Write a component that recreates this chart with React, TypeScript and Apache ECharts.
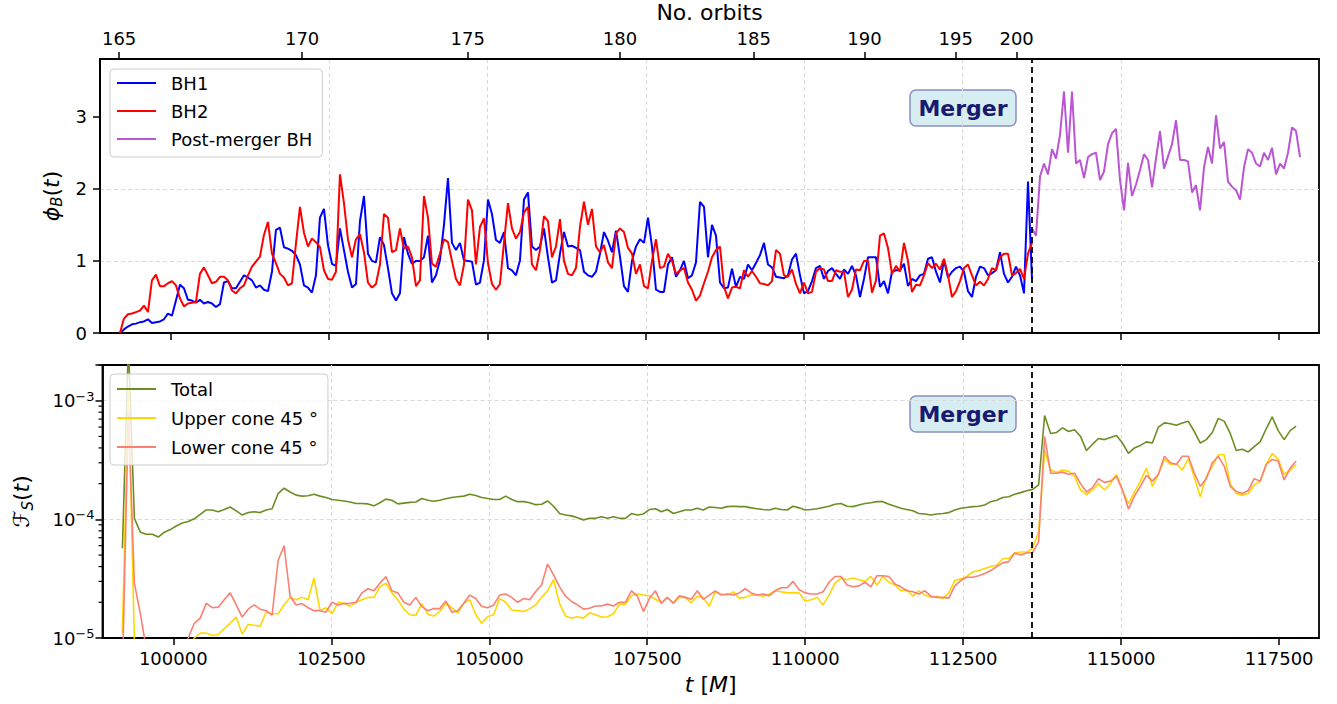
import React, { useEffect, useRef } from 'react';
import * as echarts from 'echarts';

const FONT = 'DejaVu Sans';

// axes
const X_MIN = 98880;
const X_MAX = 118130;
const T_TICKS = [100000, 102500, 105000, 107500, 110000, 112500, 115000, 117500];
const ORBIT_LABELS = [165, 170, 175, 180, 185, 190, 195, 200];
const ORBIT_TIMES = [99182, 102072, 104688, 107091, 109204, 110953, 112394, 113355];
const MERGER_T = 113590;
const PHI_TICKS = [0, 1, 2, 3];
const PHI_MAX = 3.8;
const FLUX_MIN = 1e-5;
const FLUX_MAX = 2e-3;
const FLUX_MINOR = [2e-5, 3e-5, 4e-5, 5e-5, 6e-5, 7e-5, 8e-5, 9e-5, 2e-4, 3e-4, 4e-4, 5e-4, 6e-4, 7e-4, 8e-4, 9e-4, 2e-3];

// magnetic flux phi_B(t): uniformly sampled
const BH_T0 = 99195;
const BH_DT = 63.17;
const BH1 = [
  0.0, 0.05, 0.09, 0.12, 0.13, 0.15, 0.16, 0.19, 0.14, 0.15, 0.16, 0.19, 0.27, 0.24, 0.45, 0.67, 0.62, 0.46, 0.45, 0.42,
  0.46, 0.41, 0.43, 0.41, 0.36, 0.40, 0.70, 0.72, 0.62, 0.62, 0.71, 0.80, 0.77, 0.73, 0.63, 0.66, 0.60, 0.58, 0.85, 1.43,
  1.46, 1.19, 1.17, 1.14, 1.08, 0.95, 0.66, 0.63, 0.56, 0.80, 1.60, 1.72, 1.22, 0.96, 0.93,
  1.45, 1.15, 0.85, 0.63, 0.68, 1.55, 1.9, 1.10, 1.00, 0.98, 1.33, 1.22, 0.90, 0.55, 0.45, 0.55, 1.33, 1.10, 0.96, 1.00,
  1.00, 1.05, 1.35, 0.70, 0.80, 1.01, 1.50, 2.15, 1.25, 1.15, 1.25, 1.01, 1.00, 0.99, 0.67, 0.70, 1.01, 1.85, 1.65, 1.29,
  1.25, 1.40, 0.90, 0.87, 0.80, 1.01, 1.85, 1.95, 1.20, 1.15, 1.20, 1.45, 1.05, 0.70, 0.73, 1.10, 1.40, 1.20,
  1.21, 1.18, 1.15, 0.85, 0.80, 0.78, 0.85, 1.10, 1.40, 1.28, 1.12, 1.42, 1.06, 0.65, 0.57, 1.0, 1.20, 1.30, 1.25, 1.60,
  1.20, 0.60, 0.57, 0.57, 0.95, 1.05, 0.78, 0.87, 1.00, 0.76, 0.80, 0.98, 1.82, 1.75, 1.05, 1.50, 1.35, 0.70, 0.62, 0.63,
  0.89, 0.64, 0.78, 0.75, 0.95, 0.87, 0.97, 1.08, 1.25, 0.95, 0.91, 0.78, 0.77, 0.76, 0.80, 1.02, 1.10,
  0.80, 0.55, 0.58, 0.72, 0.90, 0.93, 0.75, 0.86, 0.90, 0.82, 0.75, 0.88, 0.82, 0.93, 0.80, 0.50, 0.75, 1.05, 1.05, 1.05,
  0.64, 0.72, 0.55, 0.85, 0.87, 0.87, 0.96, 0.65, 0.75, 0.72, 0.80, 0.82, 1.03, 1.05, 0.85, 0.70, 1.01, 0.77, 0.85, 0.90,
  0.92, 0.85, 0.58, 0.50, 0.78, 0.92, 0.90, 0.80, 0.83, 0.87, 1.12, 0.82, 0.70, 0.78, 0.92, 0.80, 0.55, 2.1, 0.75,
];
const BH2 = [
  0.0, 0.20, 0.26, 0.27, 0.29, 0.31, 0.38, 0.29, 0.73, 0.81, 0.65, 0.65, 0.69, 0.72, 0.66, 0.48, 0.37, 0.41, 0.42, 0.43,
  0.82, 0.91, 0.80, 0.69, 0.71, 0.78, 0.78, 0.73, 0.59, 0.55, 0.62, 0.66, 0.80, 0.92, 0.99, 1.06, 1.36, 1.54, 1.10, 0.97,
  0.82, 0.77, 0.66, 0.69, 1.24, 1.75, 1.39, 1.20, 1.31, 1.26, 1.19, 0.87, 0.75, 0.74, 0.85,
  2.2, 1.80, 1.30, 1.05, 1.30, 1.37, 1.12, 0.70, 0.63, 0.68, 0.95, 1.65, 1.60, 1.12, 1.15, 1.45, 1.17, 1.20, 1.05, 0.65,
  0.73, 1.9, 1.60, 0.96, 0.92, 1.10, 1.30, 1.26, 1.00, 0.75, 0.66, 0.95, 1.85, 1.70, 0.95, 1.47, 1.59, 0.97, 0.68, 0.60,
  0.68, 1.25, 1.80, 1.45, 1.31, 1.40, 1.67, 1.75, 0.95, 0.87, 1.15, 1.62, 1.55, 1.05, 1.20, 1.58, 1.00, 0.82,
  0.80, 0.90, 1.47, 1.82, 1.50, 1.72, 1.20, 1.12, 1.22, 0.98, 0.90, 1.38, 1.45, 1.40, 1.18, 1.10, 0.82, 0.95, 0.65, 0.62,
  1.00, 1.30, 0.90, 0.92, 1.10, 1.00, 0.82, 0.87, 0.90, 0.70, 0.60, 0.45, 0.52, 0.69, 0.85, 1.05, 1.15, 1.20, 0.64, 0.48,
  0.63, 0.64, 0.62, 0.87, 0.78, 0.86, 0.78, 0.69, 0.68, 0.66, 0.72, 1.15, 1.10, 0.80, 0.78, 0.88, 0.68,
  0.55, 0.70, 0.55, 0.57, 0.85, 0.90, 0.88, 0.72, 0.72, 0.87, 0.85, 0.85, 0.50, 0.60, 0.88, 0.87, 1.0, 1.0, 0.56, 0.73,
  1.35, 1.38, 1.18, 0.82, 0.93, 0.85, 1.25, 1.0, 0.57, 0.67, 0.66, 0.80, 0.97, 0.90, 0.96, 0.88, 1.03, 0.80, 0.50, 0.58,
  0.72, 0.90, 0.95, 0.80, 0.66, 0.71, 0.66, 0.75, 0.90, 0.87, 1.05, 1.1, 1.10, 0.80, 0.83, 0.89, 0.75, 1.1, 1.25,
];
const PM_T0 = 113598;
const PM_DT = 63.17;
const POST_MERGER = [
  1.45, 1.35, 2.17, 2.35, 2.20, 2.55, 2.42, 2.75, 3.35, 2.50, 3.35, 2.35, 2.40, 2.15, 2.44, 2.48, 2.50, 2.12, 2.24, 2.62,
  2.77, 2.83, 2.12, 1.70, 2.36, 1.90, 2.06, 2.26, 2.48, 2.40, 2.02, 2.42, 2.80, 2.28, 2.45, 2.62, 2.95, 2.40, 2.40, 2.38,
  1.95, 2.05, 1.70, 2.30, 2.58, 2.35, 3.02, 2.56, 2.65, 2.10, 2.03, 1.98, 1.85, 2.30, 2.55, 2.50, 2.35, 2.31, 2.50, 2.40,
  2.57, 2.20, 2.35, 2.28, 2.50, 2.85, 2.80, 2.44,
];

// Poynting flux F_S(t): uniformly sampled
const FLUX_T0 = 99195;
const FLUX_DT = 94.76;
const TOTAL = [
  5.7e-5, 3e-3, 1.02e-4, 7.8e-5, 7.5e-5, 7.5e-5, 7.1e-5, 7.8e-5, 8.2e-5, 8.8e-5,
  9.3e-5, 9.6e-5, 1.01e-4, 1.1e-4, 1.2e-4, 1.2e-4, 1.16e-4, 1.21e-4, 1.27e-4, 1.18e-4,
  1.09e-4, 1.14e-4, 1.16e-4, 1.14e-4, 1.2e-4, 1.23e-4, 1.65e-4, 1.83e-4, 1.7e-4, 1.6e-4,
  1.57e-4, 1.58e-4, 1.63e-4, 1.57e-4, 1.53e-4, 1.47e-4, 1.45e-4, 1.43e-4, 1.4e-4, 1.36e-4,
  1.36e-4, 1.35e-4, 1.3e-4, 1.38e-4, 1.48e-4, 1.45e-4, 1.35e-4, 1.37e-4, 1.39e-4, 1.4e-4,
  1.5e-4, 1.45e-4, 1.42e-4, 1.45e-4, 1.49e-4, 1.53e-4, 1.55e-4, 1.57e-4, 1.63e-4, 1.59e-4,
  1.53e-4, 1.5e-4, 1.47e-4, 1.47e-4, 1.57e-4, 1.47e-4, 1.41e-4, 1.41e-4, 1.38e-4, 1.33e-4,
  1.34e-4, 1.43e-4, 1.29e-4, 1.12e-4, 1.09e-4, 1.07e-4, 1.03e-4, 9.9e-5, 1.02e-4, 1.02e-4,
  1.05e-4, 1.02e-4, 1.05e-4, 1.02e-4, 1.02e-4, 1.12e-4, 1.09e-4, 1.11e-4, 1.21e-4, 1.23e-4,
  1.16e-4, 1.21e-4, 1.12e-4, 1.16e-4, 1.2e-4, 1.2e-4, 1.24e-4, 1.2e-4, 1.27e-4, 1.26e-4,
  1.24e-4, 1.28e-4, 1.29e-4, 1.28e-4, 1.28e-4, 1.25e-4, 1.23e-4, 1.21e-4, 1.2e-4, 1.24e-4,
  1.21e-4, 1.2e-4, 1.29e-4, 1.25e-4, 1.2e-4, 1.21e-4, 1.23e-4, 1.26e-4, 1.29e-4, 1.34e-4,
  1.36e-4, 1.29e-4, 1.28e-4, 1.32e-4, 1.36e-4, 1.38e-4, 1.41e-4, 1.41e-4, 1.34e-4, 1.29e-4,
  1.24e-4, 1.21e-4, 1.18e-4, 1.12e-4, 1.11e-4, 1.09e-4, 1.11e-4, 1.12e-4, 1.14e-4, 1.2e-4,
  1.24e-4, 1.26e-4, 1.28e-4, 1.29e-4, 1.32e-4, 1.41e-4, 1.45e-4, 1.53e-4, 1.55e-4, 1.63e-4,
  1.68e-4, 1.74e-4, 1.79e-4, 1.95e-4, 7.5e-4, 5.3e-4, 5.4e-4, 5.9e-4, 5.5e-4, 5.7e-4,
  5e-4, 3.8e-4, 4.3e-4, 4.8e-4, 4.7e-4, 4.9e-4, 5.1e-4, 4.4e-4, 3.6e-4, 4e-4,
  4.2e-4, 4.5e-4, 4.4e-4, 6e-4, 6.5e-4, 6.4e-4, 6.2e-4, 6.5e-4, 6.7e-4, 5.5e-4,
  4.4e-4, 4.7e-4, 5.4e-4, 7.1e-4, 6.7e-4, 5.3e-4, 3.8e-4, 3.9e-4, 3.7e-4, 4.1e-4,
  4.5e-4, 5.8e-4, 7.3e-4, 5.6e-4, 4.7e-4, 5.6e-4, 6.1e-4,
];
const UPPER = [
  1.1e-5, 1.3e-3, 9.5e-6, 6e-6, 5e-6, 5e-6, 6e-6, 5e-6, 6e-6, 7e-6,
  7e-6, 8.5e-6, 1e-5, 1.1e-5, 1.1e-5, 1.05e-5, 1.07e-5, 1.2e-5, 1.33e-5, 1.5e-5,
  1.08e-5, 1.3e-5, 1.28e-5, 1.26e-5, 1.65e-5, 1.6e-5, 1.6e-5, 1.9e-5, 2.2e-5, 2.1e-5,
  2.2e-5, 2.1e-5, 3.2e-5, 1.7e-5, 1.8e-5, 1.6e-5, 2.0e-5, 1.96e-5, 1.85e-5, 2.0e-5,
  2.1e-5, 2.2e-5, 2.2e-5, 2.7e-5, 2.9e-5, 2.4e-5, 2.1e-5, 1.75e-5, 1.57e-5, 1.55e-5,
  1.95e-5, 1.58e-5, 1.53e-5, 1.67e-5, 1.96e-5, 1.8e-5, 1.63e-5, 1.96e-5, 2.1e-5, 1.58e-5,
  1.33e-5, 1.52e-5, 1.57e-5, 2.15e-5, 2.0e-5, 1.72e-5, 1.7e-5, 1.67e-5, 1.76e-5, 1.9e-5,
  2.2e-5, 2.5e-5, 3.1e-5, 1.95e-5, 1.53e-5, 1.47e-5, 1.51e-5, 1.47e-5, 1.63e-5, 1.57e-5,
  1.5e-5, 1.51e-5, 1.6e-5, 1.93e-5, 1.92e-5, 2.27e-5, 2.35e-5, 2.3e-5, 2.27e-5, 2.12e-5,
  1.98e-5, 2.2e-5, 1.98e-5, 2.2e-5, 2.2e-5, 1.98e-5, 2.25e-5, 2.2e-5, 1.85e-5, 2.45e-5,
  2.35e-5, 2.3e-5, 2.45e-5, 2.17e-5, 2.2e-5, 2.3e-5, 2.3e-5, 2.25e-5, 2.35e-5, 2.5e-5,
  2.45e-5, 2.4e-5, 2.4e-5, 2.4e-5, 2.05e-5, 2.1e-5, 2.2e-5, 1.9e-5, 2.3e-5, 2.9e-5,
  3.2e-5, 3.1e-5, 3.2e-5, 3.1e-5, 3.0e-5, 3.3e-5, 2.8e-5, 3.3e-5, 2.95e-5, 2.8e-5,
  2.5e-5, 2.55e-5, 2.25e-5, 2.5e-5, 2.3e-5, 2.2e-5, 2.25e-5, 2.15e-5, 2.4e-5, 3.05e-5,
  3.15e-5, 3.3e-5, 3.6e-5, 3.7e-5, 3.85e-5, 4e-5, 4.1e-5, 4.65e-5, 4.7e-5, 5.2e-5,
  5.3e-5, 5.3e-5, 5.7e-5, 7.9e-5, 3.8e-4, 2.6e-4, 2.5e-4, 2.6e-4, 2.55e-4, 2.3e-4,
  1.77e-4, 1.62e-4, 1.77e-4, 2e-4, 1.77e-4, 2e-4, 2.4e-4, 1.75e-4, 1.36e-4, 1.7e-4,
  2.1e-4, 2.7e-4, 1.9e-4, 2.4e-4, 3.2e-4, 2.9e-4, 2.95e-4, 2.6e-4, 3.25e-4, 2.25e-4,
  1.55e-4, 2.3e-4, 2.8e-4, 3.5e-4, 3.5e-4, 2e-4, 1.65e-4, 1.6e-4, 1.65e-4, 1.95e-4,
  2.1e-4, 2.9e-4, 3.6e-4, 3.2e-4, 2.4e-4, 2.6e-4, 2.9e-4,
];
const LOWER = [
  5e-6, 8e-4, 2.9e-5, 1.6e-5, 8e-6, 6e-6, 5e-6, 5e-6, 6e-6, 7e-6,
  8e-6, 1.0e-5, 1.33e-5, 1.47e-5, 1.96e-5, 1.8e-5, 1.82e-5, 2.1e-5, 2.4e-5, 1.9e-5,
  1.5e-5, 1.75e-5, 1.9e-5, 1.75e-5, 1.7e-5, 1.56e-5, 4.5e-5, 6e-5, 2.25e-5, 1.9e-5,
  1.95e-5, 1.8e-5, 1.7e-5, 1.7e-5, 1.65e-5, 2.0e-5, 1.9e-5, 1.95e-5, 1.96e-5, 2.0e-5,
  2.4e-5, 2.6e-5, 2.5e-5, 2.9e-5, 3.3e-5, 2.5e-5, 2.4e-5, 2.0e-5, 1.9e-5, 2.2e-5,
  1.84e-5, 1.7e-5, 1.77e-5, 1.77e-5, 2.05e-5, 1.65e-5, 1.7e-5, 1.96e-5, 2.3e-5, 2.15e-5,
  1.84e-5, 1.8e-5, 1.9e-5, 2.3e-5, 2.35e-5, 2.2e-5, 2.0e-5, 2.15e-5, 2.1e-5, 2.45e-5,
  2.8e-5, 4.2e-5, 3.4e-5, 2.7e-5, 2.25e-5, 2.03e-5, 1.9e-5, 1.75e-5, 1.78e-5, 1.86e-5,
  1.86e-5, 1.93e-5, 1.86e-5, 2.0e-5, 2.0e-5, 2.5e-5, 2.25e-5, 1.67e-5, 2.15e-5, 2.5e-5,
  1.96e-5, 2.2e-5, 1.96e-5, 2.27e-5, 2.2e-5, 2.12e-5, 2.5e-5, 2.12e-5, 2.3e-5, 2.5e-5,
  2.3e-5, 2.35e-5, 2.3e-5, 2.4e-5, 2.6e-5, 2.4e-5, 2.3e-5, 2.35e-5, 2.27e-5, 2.5e-5,
  2.65e-5, 2.65e-5, 3.0e-5, 2.55e-5, 2.4e-5, 2.35e-5, 2.35e-5, 2.45e-5, 2.95e-5, 3.3e-5,
  3.3e-5, 2.8e-5, 2.7e-5, 2.75e-5, 2.95e-5, 2.7e-5, 3.35e-5, 3.35e-5, 3.3e-5, 2.85e-5,
  2.7e-5, 2.5e-5, 2.45e-5, 2.35e-5, 2.5e-5, 2.25e-5, 2.2e-5, 2.2e-5, 2.17e-5, 2.75e-5,
  3.05e-5, 3.25e-5, 3.25e-5, 3.35e-5, 3.5e-5, 3.7e-5, 4e-5, 4.3e-5, 4.4e-5, 5.2e-5,
  5e-5, 5.2e-5, 5.25e-5, 6.5e-5, 5e-4, 2.45e-4, 2.45e-4, 2.5e-4, 2.4e-4, 2.45e-4,
  2e-4, 1.7e-4, 1.85e-4, 2.2e-4, 2.05e-4, 2.1e-4, 2.3e-4, 1.77e-4, 1.22e-4, 1.57e-4,
  1.9e-4, 2.35e-4, 2.1e-4, 2.4e-4, 3.4e-4, 3e-4, 2.9e-4, 3.4e-4, 3.4e-4, 2.45e-4,
  1.9e-4, 2.2e-4, 3e-4, 3.4e-4, 2.8e-4, 1.9e-4, 1.72e-4, 1.65e-4, 1.75e-4, 2.2e-4,
  2.1e-4, 2.9e-4, 3.2e-4, 3.1e-4, 2.15e-4, 2.7e-4, 3.1e-4,
];

function pairs(t0: number, dt: number, vals: number[]) {
  return vals.map((v, i) => [t0 + i * dt, v]);
}

function orbitFmt(v: number) {
  let best = 0;
  for (let i = 1; i < ORBIT_TIMES.length; i++) {
    if (Math.abs(ORBIT_TIMES[i] - v) < Math.abs(ORBIT_TIMES[best] - v)) best = i;
  }
  return String(ORBIT_LABELS[best]);
}

function logFmt(v: number) {
  const l = Math.log10(v);
  const e = Math.round(l);
  if (Math.abs(l - e) > 1e-6) return '';
  return `{b|10}{sup|\u2212${-e}}`;
}

const tickStyle = { show: true, length: 7, lineStyle: { color: '#000', width: 1.5 } };
const splitStyle = { show: true, showMinLine: false, showMaxLine: false, lineStyle: { color: '#d9d9d9', type: [4, 3], width: 1 } };
const axisLineStyle = { show: true, onZero: false, lineStyle: { color: '#000', width: 1.8 } };
const labelBase = { color: '#000', fontFamily: FONT, fontSize: 18 };
const nameRich = {
  i: { fontStyle: 'italic', fontSize: 22, fontFamily: FONT, color: '#000', lineHeight: 28 },
  n: { fontSize: 22, fontFamily: FONT, color: '#000', lineHeight: 28 },
  c: { fontSize: 22, fontFamily: FONT, color: '#000', lineHeight: 28 },
  sub: { fontSize: 15, fontStyle: 'italic', fontFamily: FONT, color: '#000', lineHeight: 16, padding: [12, 0, 0, 0] },
};

const mergerLine = {
  silent: true,
  symbol: ['none', 'none'],
  label: { show: false },
  lineStyle: { color: '#000', type: [6, 4], width: 1.8 },
  data: [{ xAxis: MERGER_T }],
};

function mergerBox(top: number) {
  return {
    type: 'group',
    x: 910,
    y: top,
    z: 100,
    children: [
      { type: 'rect', shape: { x: 0, y: 0, width: 106, height: 36, r: 6 }, style: { fill: '#d6edf2', stroke: '#8b8fc3', lineWidth: 1.5 } },
      { type: 'text', x: 53, y: 18, style: { text: 'Merger', fontSize: 22, fontWeight: 'bold', fontFamily: FONT, fill: '#191970', align: 'center', verticalAlign: 'middle' } },
    ],
  };
}

const legendBase = {
  orient: 'vertical',
  left: 110,
  icon: 'rect',
  itemWidth: 39,
  itemHeight: 2,
  backgroundColor: 'rgba(255,255,255,0.8)',
  borderColor: '#cccccc',
  borderWidth: 1,
  borderRadius: 4,
  selectedMode: false,
  textStyle: { fontFamily: FONT, fontSize: 18, color: '#000', lineHeight: 20, padding: [0, 0, 0, 10] },
};

export default function App() {
  const ref = useRef<HTMLDivElement>(null);
  useEffect(() => {
    if (!ref.current) return;
    const chart = echarts.init(ref.current, undefined, { renderer: 'svg' });
    const option: any = {
      animation: false,
      backgroundColor: '#fff',
      textStyle: { fontFamily: FONT },
      grid: [
        { left: 100, top: 59, width: 1219, height: 274, show: true, borderColor: '#000', borderWidth: 1.8, backgroundColor: 'transparent' },
        { left: 100, top: 365, width: 1219, height: 273, show: true, borderColor: '#000', borderWidth: 1.8, backgroundColor: 'transparent' },
      ],
      legend: [
        { ...legendBase, top: 69, padding: [4, 10, 8, 7], itemGap: 8, data: ['BH1', 'BH2', 'Post-merger BH'] },
        { ...legendBase, top: 374, padding: [5, 10, 8, 7], itemGap: 9, data: ['Total', 'Upper cone 45 \u00b0', 'Lower cone 45 \u00b0'] },
      ],
      xAxis: [
        {
          gridIndex: 0, type: 'value', min: X_MIN, max: X_MAX, position: 'bottom',
          axisLine: axisLineStyle,
          axisTick: { ...tickStyle, customValues: T_TICKS },
          axisLabel: { show: false, customValues: T_TICKS },
          splitLine: splitStyle,
        },
        {
          gridIndex: 0, type: 'value', min: X_MIN, max: X_MAX, position: 'top',
          name: 'No. orbits', nameLocation: 'middle', nameGap: 36,
          nameTextStyle: { fontFamily: FONT, fontSize: 22, color: '#000' },
          axisLine: axisLineStyle,
          axisTick: { ...tickStyle, customValues: ORBIT_TIMES },
          axisLabel: { ...labelBase, margin: 12, customValues: ORBIT_TIMES, formatter: orbitFmt },
          splitLine: { show: false },
        },
        {
          gridIndex: 1, type: 'value', min: X_MIN, max: X_MAX, position: 'bottom',
          name: '{i|t}{n| [}{i|M}{n|]}', nameLocation: 'middle', nameGap: 32,
          nameTextStyle: { rich: nameRich },
          axisLine: axisLineStyle,
          axisTick: { ...tickStyle, customValues: T_TICKS },
          axisLabel: { ...labelBase, margin: 11, customValues: T_TICKS, formatter: (v: number) => String(Math.round(v)) },
          splitLine: splitStyle,
        },
      ],
      yAxis: [
        {
          gridIndex: 0, type: 'value', min: 0, max: PHI_MAX, interval: 1,
          name: '{i|\u03d5}{sub|B}{n|(}{i|t}{n|)}', nameLocation: 'middle', nameGap: 31, nameRotate: 90,
          nameTextStyle: { rich: nameRich },
          axisLine: axisLineStyle,
          axisTick: { ...tickStyle, customValues: PHI_TICKS },
          axisLabel: { ...labelBase, margin: 13, customValues: PHI_TICKS },
          splitLine: splitStyle,
        },
        {
          gridIndex: 1, type: 'log', logBase: 10, min: FLUX_MIN, max: FLUX_MAX,
          name: '{c|\u2131}{sub|S}{n|(}{i|t}{n|)}', nameLocation: 'middle', nameGap: 67, nameRotate: 90,
          nameTextStyle: { rich: nameRich },
          axisLine: axisLineStyle,
          axisTick: tickStyle,
          axisLabel: {
            ...labelBase, margin: 8, formatter: logFmt,
            rich: {
              b: { fontSize: 18, fontFamily: FONT, color: '#000', lineHeight: 22 },
              sup: { fontSize: 13, fontFamily: FONT, color: '#000', lineHeight: 13, padding: [0, 0, 9, 0] },
            },
          },
          splitLine: splitStyle,
        },
      ],
      graphic: [mergerBox(90), mergerBox(396)],
      series: [
        { type: 'line', name: 'BH1', xAxisIndex: 0, yAxisIndex: 0, data: pairs(BH_T0, BH_DT, BH1), symbol: 'none', lineStyle: { color: '#0000ff', width: 2 }, itemStyle: { color: '#0000ff' } },
        { type: 'line', name: 'BH2', xAxisIndex: 0, yAxisIndex: 0, data: pairs(BH_T0, BH_DT, BH2), symbol: 'none', lineStyle: { color: '#ff0000', width: 2 }, itemStyle: { color: '#ff0000' } },
        { type: 'line', name: 'Post-merger BH', xAxisIndex: 0, yAxisIndex: 0, data: pairs(PM_T0, PM_DT, POST_MERGER), symbol: 'none', lineStyle: { color: '#ba55d3', width: 2 }, itemStyle: { color: '#ba55d3' }, markLine: mergerLine },
        { type: 'line', name: 'Total', xAxisIndex: 2, yAxisIndex: 1, data: pairs(FLUX_T0, FLUX_DT, TOTAL), symbol: 'none', lineStyle: { color: '#6b8e23', width: 1.6 }, itemStyle: { color: '#6b8e23' }, markLine: mergerLine },
        { type: 'line', name: 'Upper cone 45 \u00b0', xAxisIndex: 2, yAxisIndex: 1, data: pairs(FLUX_T0, FLUX_DT, UPPER), symbol: 'none', lineStyle: { color: '#ffd700', width: 1.6 }, itemStyle: { color: '#ffd700' } },
        { type: 'line', name: 'Lower cone 45 \u00b0', xAxisIndex: 2, yAxisIndex: 1, data: pairs(FLUX_T0, FLUX_DT, LOWER), symbol: 'none', lineStyle: { color: '#fa8072', width: 1.6 }, itemStyle: { color: '#fa8072' } },
        {
          type: 'custom', name: 'minor', xAxisIndex: 2, yAxisIndex: 1, silent: true, clip: false, z: 5,
          data: FLUX_MINOR.map((v) => [X_MIN, v]),
          renderItem: (_p: any, api: any) => {
            const p = api.coord([api.value(0), api.value(1)]);
            return { type: 'line', shape: { x1: p[0] - 4, y1: p[1], x2: p[0], y2: p[1] }, style: { stroke: '#000', lineWidth: 1.2 } };
          },
        },
      ],
    };
    chart.setOption(option);
    return () => chart.dispose();
  }, []);
  return <div ref={ref} style={{ position: 'fixed', left: 0, top: 0, width: 1337, height: 704, background: '#fff' }} />;
}
